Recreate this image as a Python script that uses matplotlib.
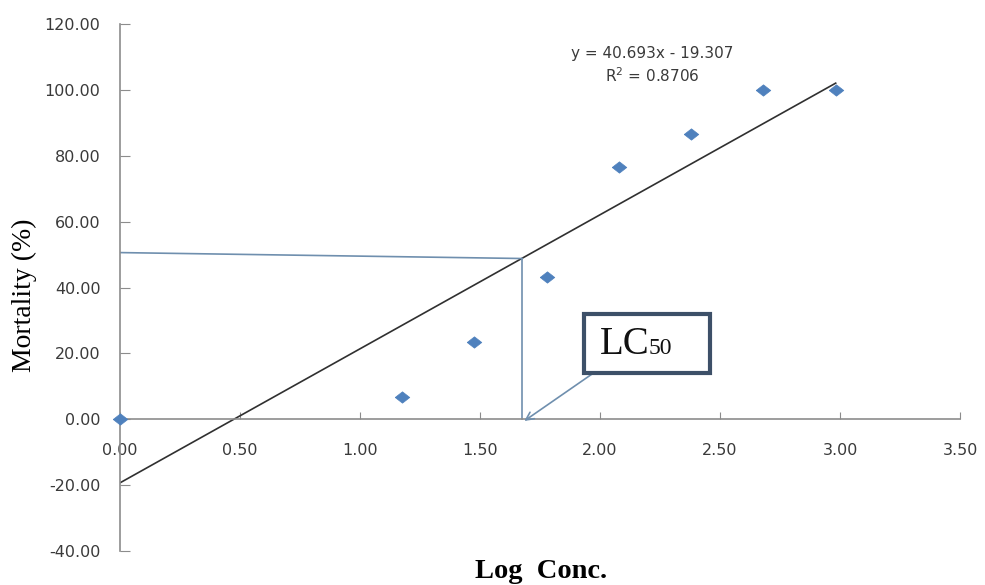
import matplotlib
matplotlib.use("Agg")
import matplotlib.pyplot as plt
from matplotlib.patches import Rectangle
import numpy as np

log_conc = [0.00, 1.176, 1.477, 1.778, 2.079, 2.380, 2.681, 2.982]
mortality = [0.00, 6.67, 23.33, 43.33, 76.67, 86.67, 100.00, 100.00]
slope = 40.693
intercept = -19.307
r2 = 0.8706
lc50_x = 1.675
lc50_guide_y = [50.6, 48.8]
x_ticks = [0.0, 0.5, 1.0, 1.5, 2.0, 2.5, 3.0, 3.5]
y_ticks = [-40, -20, 0, 20, 40, 60, 80, 100, 120]

fig = plt.figure(figsize=(9.85, 5.85), dpi=100)
ax = fig.add_axes([120/985, (585-551)/585, 840/985, (551-24)/585])
ax.set_xlim(0, 3.5)
ax.set_ylim(-40, 120)

axis_col = "#8c8c8c"
for s in ["top", "right"]:
    ax.spines[s].set_visible(False)
ax.spines["left"].set_color(axis_col)
ax.spines["bottom"].set_color(axis_col)
ax.spines["bottom"].set_position(("data", 0))
ax.spines["left"].set_linewidth(1.2)
ax.spines["bottom"].set_linewidth(1.2)

ax.set_xticks(x_ticks)
ax.set_xticklabels([f"{v:.2f}" for v in x_ticks])
ax.set_yticks(y_ticks)
ax.set_yticklabels([f"{v:.2f}" for v in y_ticks])
ax.tick_params(axis="y", direction="in", length=7, color=axis_col, labelsize=11.5,
               labelcolor="#3a3a3a", pad=14)
ax.tick_params(axis="x", direction="in", length=5, color=axis_col, labelsize=11.5,
               labelcolor="#3a3a3a", pad=17)

# regression line
xs = np.array([0.0, max(log_conc)])
ax.plot(xs, slope * xs + intercept, color="#303030", lw=1.2, zorder=2)

# LC50 guide lines
guide_col = "#6f8fae"
ax.plot([0, lc50_x], lc50_guide_y, color=guide_col, lw=1.2, zorder=2)
ax.plot([lc50_x, lc50_x], [lc50_guide_y[1], 0], color=guide_col, lw=1.2, zorder=2)

# data points (slightly wide diamonds)
diamond = [(-1, 0), (0, 0.78), (1, 0), (0, -0.78), (-1, 0)]
ax.plot(log_conc, mortality, linestyle="none", marker=diamond, markersize=10.5,
        color="#4f81bd", markeredgecolor="#4f81bd", markeredgewidth=0.5,
        zorder=3, clip_on=False)

# equation text
ax.text(2.217, 111.1, f"y = {slope}x - {abs(intercept)}", ha="center", va="center",
        fontsize=11, color="#3a3a3a")
ax.text(2.217, 104.3, f"R$^2$ = {r2}", ha="center", va="center",
        fontsize=11, color="#3a3a3a")

# LC50 annotation
ax.annotate("", xy=(lc50_x, -1.0), xytext=(1.99, 14.9),
            arrowprops=dict(arrowstyle="->", color=guide_col, lw=1.2, mutation_scale=14))
ax.add_patch(Rectangle((1.933, 13.9), 2.458 - 1.933, 32.1 - 13.9, fc="white",
                       ec="#3d5068", lw=3, zorder=4))
ax.text(2.0, 19.7, "LC", ha="left", va="baseline", fontsize=28,
        family="Liberation Serif", color="#111111", zorder=5)
ax.text(2.203, 19.7, "50", ha="left", va="baseline", fontsize=17,
        family="Liberation Serif", color="#111111", zorder=5)

fig.text(24/985, 1 - 295/585, "Mortality (%)", family="Liberation Serif", fontsize=20,
         rotation=90, ha="center", va="center")
fig.text(541/985, 7/585, "Log  Conc.", family="Liberation Serif", fontsize=20.5,
         fontweight="bold", ha="center", va="baseline")

fig.savefig("out.png", dpi=100)
